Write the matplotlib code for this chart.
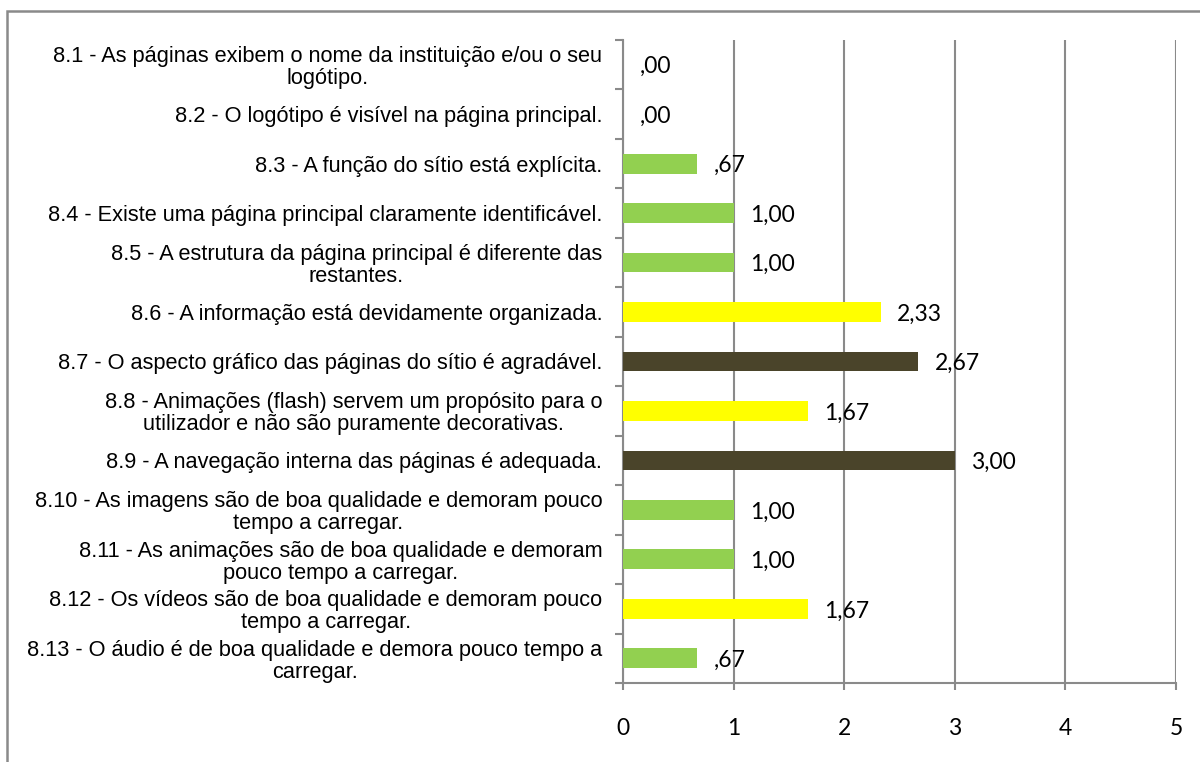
import matplotlib
matplotlib.use('Agg')
import matplotlib.pyplot as plt
from matplotlib.patches import Rectangle

# questionnaire items (8.x) and mean scores
labels = [
    '8.1 - As páginas exibem o nome da instituição e/ou o seu\nlogótipo.',
    '8.2 - O logótipo é visível na página principal.',
    '8.3 - A função do sítio está explícita.',
    '8.4 - Existe uma página principal claramente identificável.',
    '8.5 - A estrutura da página principal é diferente das\nrestantes.',
    '8.6 - A informação está devidamente organizada.',
    '8.7 - O aspecto gráfico das páginas do sítio é agradável.',
    '8.8 - Animações (flash) servem um propósito para o\nutilizador e não são puramente decorativas.',
    '8.9 - A navegação interna das páginas é adequada.',
    '8.10 - As imagens são de boa qualidade e demoram pouco\ntempo a carregar.',
    '8.11 - As animações são de boa qualidade e demoram\npouco tempo a carregar.',
    '8.12 - Os vídeos são de boa qualidade e demoram pouco\ntempo a carregar.',
    '8.13 - O áudio é de boa qualidade e demora pouco tempo a\ncarregar.',
]
values = [0.00, 0.00, 0.67, 1.00, 1.00, 2.33, 2.67, 1.67, 3.00, 1.00, 1.00, 1.67, 0.67]
bar_colors = ['#92D050', '#92D050', '#92D050', '#92D050', '#92D050', '#FFFF00', '#4A442A',
              '#FFFF00', '#4A442A', '#92D050', '#92D050', '#FFFF00', '#92D050']
xticks = [0, 1, 2, 3, 4, 5]

grey = '#8a8a8a'


def fmt(v):
    # portuguese style, no leading zero: ,67 / 1,00
    s = '%.2f' % v
    s = s.replace('.', ',')
    if s.startswith('0'):
        s = s[1:]
    return s


fig = plt.figure(figsize=(12, 7.62), dpi=100)
ax = fig.add_axes([623 / 1200, 1 - 683 / 762, (1176 - 623) / 1200, (683 - 40) / 762])

ypos = list(range(len(labels)))
ax.barh(ypos, values, height=0.4, color=bar_colors, zorder=3)

for y, v in zip(ypos, values):
    ax.annotate(fmt(v), (v, y), xytext=(12, -1.5), textcoords='offset points',
                va='center', ha='left', fontsize=16.5, family='Lato', zorder=4)

ax.set_xlim(0, 5)
ax.set_ylim(len(labels) - 0.5, -0.5)

ax.set_xticks(xticks)
ax.set_xticklabels([str(t) for t in xticks], fontsize=16.5, family='Lato')
ax.tick_params(axis='x', direction='out', length=5, width=1.5, color=grey, pad=20)

ax.set_yticks(ypos)
ax.set_yticklabels(labels, fontsize=15.7, family='Liberation Sans', linespacing=1.05,
                   multialignment='center')
ax.tick_params(axis='y', which='major', length=0, pad=15)
ax.set_yticks([y - 0.5 for y in range(len(labels) + 1)], minor=True)
ax.tick_params(axis='y', which='minor', direction='out', length=6, width=1.5, color=grey)

ax.grid(axis='x', color=grey, linewidth=1.5, zorder=0)
ax.grid(axis='y', visible=False)
for side in ['top', 'right']:
    ax.spines[side].set_visible(False)
for side in ['left', 'bottom']:
    ax.spines[side].set_color(grey)
    ax.spines[side].set_linewidth(1.5)

# chart frame (runs off the right and bottom edge)
frame = Rectangle((7 / 1200, -0.1), 1.2, 1 - 11 / 762 + 0.1, transform=fig.transFigure,
                  fill=False, edgecolor=grey, linewidth=1.8)
fig.patches.append(frame)

fig.savefig('out.png', dpi=100)
